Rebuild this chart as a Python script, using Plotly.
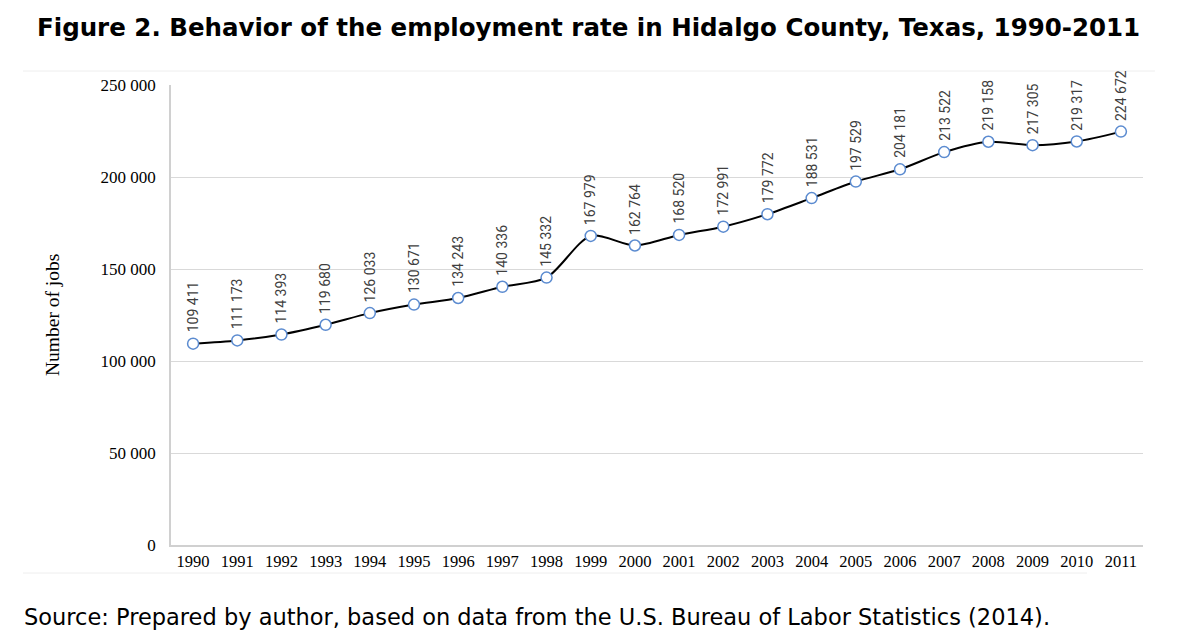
import plotly.graph_objects as go

years = [str(y) for y in range(1990, 2012)]
jobs = [109411, 111173, 114393, 119680, 126033, 130671, 134243, 140336, 145332,
        167979, 162764, 168520, 172991, 179772, 188531, 197529, 204181, 213522,
        219158, 217305, 219317, 224672]
ytick_vals = [0, 50000, 100000, 150000, 200000, 250000]
ytick_text = ["0", "50 000", "100 000", "150 000", "200 000", "250 000"]

title_text = "Figure 2. Behavior of the employment rate in Hidalgo County, Texas, 1990-2011"
source_text = "Source: Prepared by author, based on data from the U.S. Bureau of Labor Statistics (2014)."

fig = go.Figure()
fig.add_trace(go.Scatter(
    x=years, y=jobs, mode="lines+markers",
    line=dict(color="black", width=2, shape="spline", smoothing=0.8),
    marker=dict(size=11, color="white", line=dict(color="#5B8BD0", width=1.5)),
    hoverinfo="x+y", showlegend=False,
))

annotations = []
for i, v in enumerate(jobs):
    annotations.append(dict(
        x=i, y=v, xref="x", yref="y", text=f"{v:,}".replace(",", " "),
        textangle=-90, showarrow=False, yanchor="bottom", xanchor="center",
        yshift=9, font=dict(family="Roboto", size=14, color="#404040"),
    ))

annotations.append(dict(
    x=-0.1224, y=0.5, xref="paper", yref="paper", text="Number of jobs",
    textangle=-90, showarrow=False, xanchor="center", yanchor="middle",
    font=dict(family="Liberation Serif", size=19.5, color="black"),
))
annotations.append(dict(
    x=0.430, y=1.124, xref="paper", yref="paper", text="<b>" + title_text + "</b>",
    showarrow=False, xanchor="center", yanchor="middle",
    font=dict(family="DejaVu Sans", size=24.5, color="black"),
))
annotations.append(dict(
    x=-0.1533, y=-0.1565, xref="paper", yref="paper", text=source_text,
    showarrow=False, xanchor="left", yanchor="middle",
    font=dict(family="DejaVu Sans", size=22.5, color="black"),
))

shapes = [
    dict(type="line", xref="paper", yref="paper", x0=-0.1523, x1=1.0123, y0=1.0304, y1=1.0304,
         line=dict(color="#eeeeee", width=1)),
    dict(type="line", xref="paper", yref="paper", x0=-0.1523, x1=0.9424, y0=-0.0609, y1=-0.0609,
         line=dict(color="#eeeeee", width=1)),
]

fig.update_layout(
    width=1184, height=627,
    margin=dict(l=163, r=49, t=77, b=90),
    paper_bgcolor="white", plot_bgcolor="white",
    annotations=annotations, shapes=shapes,
    xaxis=dict(type="category", range=[-0.5, 21.5], showgrid=False,
               showline=True, linecolor="#d0d0d0", linewidth=1.5, ticks="",
               tickfont=dict(family="Liberation Serif", size=16.5, color="black"),
               fixedrange=True),
    yaxis=dict(range=[0, 250000], tickvals=ytick_vals, ticktext=ytick_text,
               showgrid=True, gridcolor="#d9d9d9", gridwidth=1,
               showline=True, linecolor="#d0d0d0", linewidth=1.5,
               zeroline=False, ticks="", ticklabelstandoff=10,
               tickfont=dict(family="Liberation Serif", size=17, color="black"),
               fixedrange=True),
)

fig.write_html("out.html")
